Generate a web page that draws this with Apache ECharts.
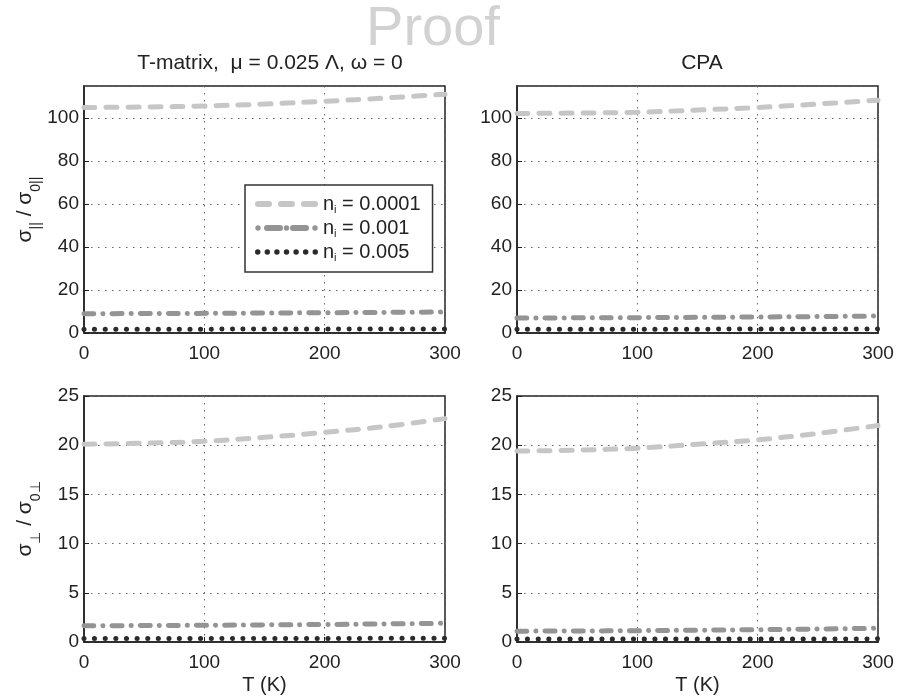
<!DOCTYPE html>
<html><head><meta charset="utf-8">
<script src="https://cdn.jsdelivr.net/npm/echarts@6/dist/echarts.min.js"></script>
<style>html,body{margin:0;padding:0;background:#fff}#c{width:902px;height:700px}</style>
</head><body><div id="c"></div>
<script>
const T = [0, 50, 100, 150, 200, 250, 300];
const xTicks = [0, 100, 200, 300];
const names = ['0.0001', '0.001', '0.005'];
// sigma_par / sigma_0par, T-matrix
const tmParA = [105.0, 105.2, 105.7, 106.6, 107.9, 109.4, 111.2];
const tmParB = [9.0, 9.05, 9.15, 9.3, 9.45, 9.6, 9.8];
const tmParC = [1.8, 1.8, 1.8, 1.85, 1.85, 1.9, 1.9];
// CPA
const cpaParA = [102.2, 102.4, 102.8, 103.8, 105.0, 106.6, 108.4];
const cpaParB = [7.0, 7.05, 7.15, 7.3, 7.45, 7.65, 7.9];
const cpaParC = [1.8, 1.8, 1.8, 1.8, 1.85, 1.85, 1.9];
// sigma_perp / sigma_0perp, T-matrix
const tmPerA = [20.1, 20.2, 20.4, 20.8, 21.3, 21.9, 22.7];
const tmPerB = [1.65, 1.67, 1.7, 1.74, 1.78, 1.84, 1.9];
const tmPerC = [0.35, 0.35, 0.35, 0.36, 0.36, 0.37, 0.37];
// CPA
const cpaPerA = [19.4, 19.5, 19.7, 20.1, 20.55, 21.2, 22.0];
const cpaPerB = [1.1, 1.12, 1.15, 1.2, 1.25, 1.32, 1.4];
const cpaPerC = [0.3, 0.3, 0.3, 0.3, 0.31, 0.31, 0.32];

const panels = [
  [tmParA, tmParB, tmParC],
  [cpaParA, cpaParB, cpaParC],
  [tmPerA, tmPerB, tmPerC],
  [cpaPerA, cpaPerB, cpaPerC]
];

const FONT = 'Liberation Sans, Arial, sans-serif';
const styles = [
  {color: '#c6c6c6', type: [11, 11]},
  {color: '#949494', type: [10, 9, 0.1, 9]},
  {color: '#2b2b2b', type: [0.1, 10.5]}
];

// legend icon shapes (63 x 6 box)
function dash(x0, len) { return 'M' + (x0 + 3) + ',0 h' + (len - 6) + ' a3,3 0 0 1 0,6 h' + (-(len - 6)) + ' a3,3 0 0 1 0,-6 z '; }
function dot(cx) { return 'M' + (cx - 2.7) + ',3 a2.7,2.7 0 1 0 5.4,0 a2.7,2.7 0 1 0 -5.4,0 z '; }
const iconPaths = [
  'path://' + dash(0, 17) + dash(23, 17) + dash(46, 17),
  'path://' + dot(3) + dash(9, 19) + dot(31.5) + dash(35, 19) + dot(60),
  'path://' + [3, 12.5, 22, 31.5, 41, 50.5, 60].map(dot).join('')
];

const grids = [
  {left: 84, top: 86, width: 361, height: 247},
  {left: 517, top: 86, width: 361, height: 247},
  {left: 84, top: 396, width: 361, height: 246},
  {left: 517, top: 396, width: 361, height: 246}
].map(g => Object.assign({show: true, borderColor: '#222', borderWidth: 1.5, backgroundColor: '#fff'}, g));

const axisLabelStyle = {color: '#222', fontSize: 19, fontFamily: FONT};
const splitLine = {show: true, lineStyle: {color: '#666', type: [1.5, 5.5], width: 1}};

const xAxes = grids.map((g, i) => ({
  type: 'value', gridIndex: i, min: 0, max: 300, interval: 100,
  axisLine: {show: true, lineStyle: {color: '#222', width: 1.5}},
  axisTick: {show: true, inside: true, length: 5, lineStyle: {color: '#222'}},
  axisLabel: Object.assign({margin: 11}, axisLabelStyle),
  splitLine: splitLine,
  name: i >= 2 ? 'T (K)' : '', nameLocation: 'middle', nameGap: 33,
  nameTextStyle: {color: '#222', fontSize: 20, fontFamily: FONT}
}));

const parName = '{a|σ}{s|||}{a| / σ}{s|0||}';
const perName = '{a|σ}{s|⊥}{a| / σ}{s|0⊥}';
const richName = {
  a: {fontSize: 21, fontFamily: FONT, color: '#222', verticalAlign: 'middle', lineHeight: 28},
  s: {fontSize: 14, fontFamily: FONT, color: '#222', verticalAlign: 'bottom', lineHeight: 28, padding: [0, 0, -4, 0]}
};

const yAxes = grids.map((g, i) => ({
  type: 'value', gridIndex: i, min: 0, max: i < 2 ? 115 : 25, interval: i < 2 ? 20 : 5,
  axisLine: {show: true, lineStyle: {color: '#222', width: 1.5}},
  axisTick: {show: true, inside: true, length: 5, lineStyle: {color: '#222'}},
  axisLabel: Object.assign({margin: 5, showMaxLabel: i >= 2}, axisLabelStyle),
  splitLine: splitLine,
  name: i === 0 ? parName : (i === 2 ? perName : ''),
  nameLocation: 'middle', nameRotate: 90, nameGap: 45,
  nameTextStyle: {rich: richName}
}));

const series = [];
panels.forEach((p, gi) => {
  p.forEach((vals, si) => {
    series.push({
      type: 'line', name: names[si], xAxisIndex: gi, yAxisIndex: gi,
      data: T.map((t, k) => [t, vals[k]]),
      smooth: 0.4, symbol: 'none', z: 3 + si,
      lineStyle: {color: styles[si].color, width: 5, type: styles[si].type, cap: 'round'},
      itemStyle: {color: styles[si].color}
    });
  });
});

const chart = echarts.init(document.getElementById('c'), null, {renderer: 'canvas'});
chart.setOption({
  animation: false,
  backgroundColor: '#fff',
  title: [
    {text: 'Proof', left: 428, top: -3, textAlign: 'center',
     textStyle: {fontSize: 56, fontWeight: 'normal', color: '#d2d2d2', fontFamily: FONT}},
    {text: 'T-matrix,  μ = 0.025 Λ, ω = 0', left: 265, top: 48, textAlign: 'center',
     textStyle: {fontSize: 21, fontWeight: 'normal', color: '#222', fontFamily: FONT}},
    {text: 'CPA', left: 697, top: 48, textAlign: 'center',
     textStyle: {fontSize: 21, fontWeight: 'normal', color: '#222', fontFamily: FONT}}
  ],
  grid: grids,
  xAxis: xAxes,
  yAxis: yAxes,
  legend: {
    orient: 'vertical', left: 245, top: 185,
    padding: [9, 12, 9, 10], itemGap: 3,
    itemWidth: 63, itemHeight: 6,
    backgroundColor: '#fff', borderColor: '#333', borderWidth: 1.5,
    data: names.map((n, k) => ({name: n, icon: iconPaths[k]})),
    formatter: n => '{n|n}{i|i}{n| = ' + n + '}',
    textStyle: {color: '#222', rich: {
      n: {fontSize: 20, fontFamily: FONT, color: '#222', lineHeight: 22, verticalAlign: 'middle'},
      i: {fontSize: 11, fontFamily: FONT, color: '#222', lineHeight: 22, verticalAlign: 'bottom'}
    }}
  },
  series: series
});
</script>
</body></html>
